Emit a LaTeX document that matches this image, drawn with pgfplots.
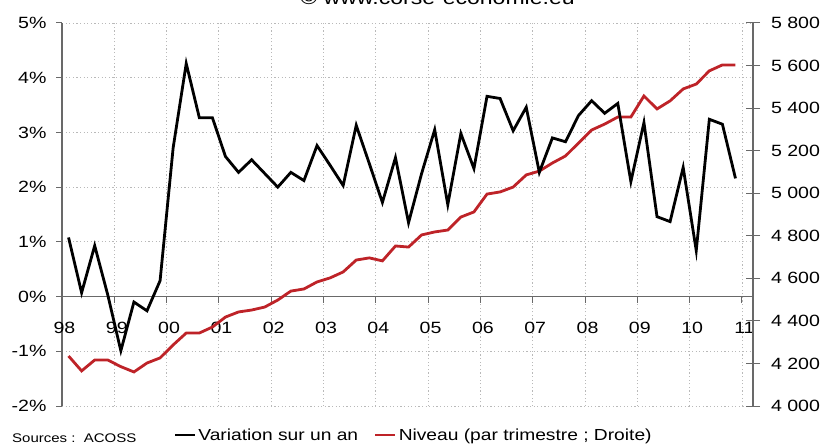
\documentclass[border=0pt]{standalone}
\usepackage{fontspec}
\setmainfont{Liberation Sans}[FakeStretch=1.2]
\usepackage{pgfplots}
\pgfplotsset{compat=1.18}
\definecolor{niv}{RGB}{190,35,40}
\definecolor{axgray}{RGB}{105,105,105}
\definecolor{gridgray}{RGB}{185,185,185}

\pgfplotstableread{
x y
1998.125 1.08
1998.375 0.07
1998.625 0.93
1998.875 0.03
1999.125 -0.99
1999.375 -0.10
1999.625 -0.26
1999.875 0.29
2000.125 2.72
2000.375 4.26
2000.625 3.27
2000.875 3.27
2001.125 2.56
2001.375 2.27
2001.625 2.50
2001.875 2.25
2002.125 2.00
2002.375 2.27
2002.625 2.12
2002.875 2.76
2003.125 2.40
2003.375 2.03
2003.625 3.13
2003.875 2.43
2004.125 1.72
2004.375 2.54
2004.625 1.35
2004.875 2.25
2005.125 3.05
2005.375 1.68
2005.625 2.98
2005.875 2.34
2006.125 3.66
2006.375 3.62
2006.625 3.03
2006.875 3.46
2007.125 2.27
2007.375 2.90
2007.625 2.83
2007.875 3.31
2008.125 3.58
2008.375 3.35
2008.625 3.53
2008.875 2.10
2009.125 3.18
2009.375 1.46
2009.625 1.37
2009.875 2.36
2010.125 0.84
2010.375 3.24
2010.625 3.15
2010.875 2.16
}\variation

\pgfplotstableread{
x y
1998.125 4235
1998.375 4165
1998.625 4216
1998.875 4216
1999.125 4185
1999.375 4160
1999.625 4202
1999.875 4226
2000.125 4287
2000.375 4343
2000.625 4343
2000.875 4371
2001.125 4418
2001.375 4442
2001.625 4451
2001.875 4465
2002.125 4498
2002.375 4540
2002.625 4550
2002.875 4583
2003.125 4602
2003.375 4630
2003.625 4686
2003.875 4696
2004.125 4682
2004.375 4752
2004.625 4747
2004.875 4804
2005.125 4818
2005.375 4827
2005.625 4888
2005.875 4912
2006.125 4996
2006.375 5006
2006.625 5029
2006.875 5086
2007.125 5104
2007.375 5142
2007.625 5175
2007.875 5236
2008.125 5297
2008.375 5325
2008.625 5358
2008.875 5358
2009.125 5457
2009.375 5396
2009.625 5434
2009.875 5490
2010.125 5513
2010.375 5575
2010.625 5603
2010.875 5603
}\niveau

\begin{document}
\begin{tikzpicture}[x=1pt,y=1pt]
% left axis: grid, axes, labels
\begin{axis}[
  at={(62pt,38pt)}, anchor=south west,
  width=691pt, height=383pt, scale only axis,
  xmin=1998, xmax=2011.21, ymin=-2, ymax=5,
  axis x line=middle, axis y line=left,
  hide obscured x ticks=false, hide obscured y ticks=false,
  axis line style={-, axgray, line width=1.1pt},
  xtick={1998,...,2011}, minor x tick num=3,
  xticklabels={98,99,00,01,02,03,04,05,06,07,08,09,10,11},
  ytick={-2,...,5},
  yticklabels={-2\%,-1\%,0\%,1\%,2\%,3\%,4\%,5\%},
  grid=major,
  major grid style={gridgray, dash pattern=on 1.2pt off 2.4pt, line width=0.9pt},
  tick align=center,
  major tick length=6pt, minor tick length=4pt,
  tick style={axgray, line width=1pt},
  major x tick style={yshift=-3pt},
  minor x tick style={yshift=2pt},
  major y tick style={xshift=-3pt},
  ticklabel style={font=\fontsize{16.3}{18}\selectfont, text=black},
  xticklabel style={yshift=-19pt, xshift=2.5pt},
  yticklabel style={xshift=-9pt},
]
\end{axis}
% right axis: level
\begin{axis}[
  at={(62pt,38pt)}, anchor=south west,
  width=691pt, height=383pt, scale only axis,
  xmin=1998, xmax=2011.21, ymin=4000, ymax=5800,
  axis x line=none, axis y line=right,
  axis line style={-, axgray, line width=1.1pt},
  ytick={4000,4200,...,5800},
  tick align=center, major tick length=14pt,
  tick style={axgray, line width=1pt},
  /pgf/number format/.cd, 1000 sep={\ }, assume math mode=true, /pgfplots/.cd,
  yticklabel style={font=\fontsize{16.3}{18}\selectfont, text=black, xshift=7.5pt},
  legend columns=2,
  legend style={at={(0.509,-0.076)}, anchor=center, draw=none, fill=none,
    font=\fontsize{16}{18}\selectfont,
    /tikz/every even column/.append style={column sep=14pt}},
  legend image code/.code={\draw[#1, line width=2.6pt] (0pt,0pt) -- (20pt,0pt);},
]
\addlegendimage{black}
\addlegendentry{Variation sur un an}
\addplot[niv, line width=2.8pt] table[x=x,y=y] {\niveau};
\addlegendentry{Niveau (par trimestre ; Droite)}
\end{axis}
% black series on top
\begin{axis}[
  at={(62pt,38pt)}, anchor=south west,
  width=691pt, height=383pt, scale only axis,
  xmin=1998, xmax=2011.21, ymin=-2, ymax=5,
  hide axis,
]
\addplot[black, line width=2.8pt] table[x=x,y=y] {\variation};
\end{axis}
\node[anchor=base, font=\fontsize{19.2}{20}\selectfont] at (437.5,439) {© www.corse-economie.eu};
\node[anchor=west, font=\fontsize{12.5}{13}\selectfont, inner sep=0pt] at (12,6) {Sources :\ \ ACOSS};
\pgfresetboundingbox
\path (0,0) rectangle (821,444);
\end{tikzpicture}
\end{document}
